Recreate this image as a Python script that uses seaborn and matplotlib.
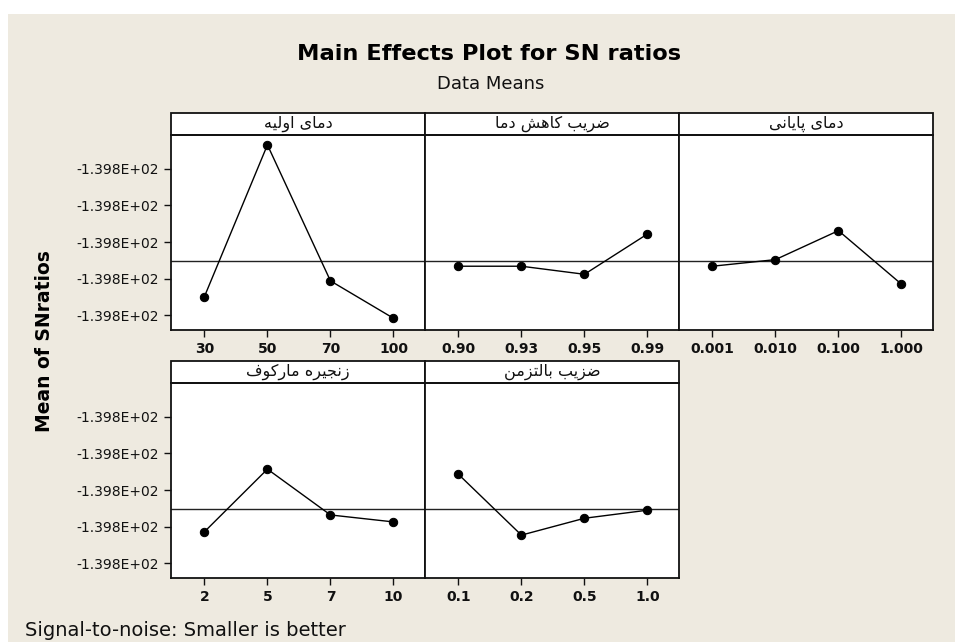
import matplotlib
matplotlib.use("Agg")
import matplotlib.pyplot as plt
from matplotlib.patches import Rectangle
from matplotlib.ticker import FormatStrFormatter
import numpy as np
import pandas as pd
import seaborn as sns

# factor names (Persian) and their levels
factor_names = ["دمای اولیه", "ضریب کاهش دما", "دمای پایانی", "زنجیره مارکوف", "ضزیب بالتزمن"]
levels_t0 = ["30", "50", "70", "100"]
levels_alpha = ["0.90", "0.93", "0.95", "0.99"]
levels_tf = ["0.001", "0.010", "0.100", "1.000"]
levels_markov = ["2", "5", "7", "10"]
levels_boltz = ["0.1", "0.2", "0.5", "1.0"]

# mean SN ratio for every level
sn_t0 = [-139.79949, -139.79535, -139.79906, -139.80008]
sn_alpha = [-139.79866, -139.79866, -139.79888, -139.79778]
sn_tf = [-139.79866, -139.79848, -139.79769, -139.79915]
sn_markov = [-139.79914, -139.79743, -139.79868, -139.79887]
sn_boltz = [-139.79757, -139.79923, -139.79877, -139.79855]

y_ticks = [-139.796, -139.797, -139.798, -139.799, -139.800]

BEIGE = "#EEEAE0"
INK = "#111111"

# minimal Persian shaping: (isolated, final, initial, medial)
FORMS = {
    "ا": ("\uFE8D", "\uFE8E", None, None),
    "ب": ("\uFE8F", "\uFE90", "\uFE91", "\uFE92"),
    "پ": ("\uFB56", "\uFB57", "\uFB58", "\uFB59"),
    "ت": ("\uFE95", "\uFE96", "\uFE97", "\uFE98"),
    "ج": ("\uFE9D", "\uFE9E", "\uFE9F", "\uFEA0"),
    "د": ("\uFEA9", "\uFEAA", None, None),
    "ر": ("\uFEAD", "\uFEAE", None, None),
    "ز": ("\uFEAF", "\uFEB0", None, None),
    "ش": ("\uFEB5", "\uFEB6", "\uFEB7", "\uFEB8"),
    "ض": ("\uFEBD", "\uFEBE", "\uFEBF", "\uFEC0"),
    "ف": ("\uFED1", "\uFED2", "\uFED3", "\uFED4"),
    "ک": ("\uFB8E", "\uFB8F", "\uFB90", "\uFB91"),
    "ل": ("\uFEDD", "\uFEDE", "\uFEDF", "\uFEE0"),
    "م": ("\uFEE1", "\uFEE2", "\uFEE3", "\uFEE4"),
    "ن": ("\uFEE5", "\uFEE6", "\uFEE7", "\uFEE8"),
    "ه": ("\uFEE9", "\uFEEA", "\uFEEB", "\uFEEC"),
    "و": ("\uFEED", "\uFEEE", None, None),
    "ی": ("\uFBFC", "\uFBFD", "\uFBFE", "\uFBFF"),
}


def shape_fa(text):
    out = []
    for i, ch in enumerate(text):
        if ch not in FORMS:
            out.append(ch)
            continue
        prev = text[i - 1] if i > 0 else None
        nxt = text[i + 1] if i + 1 < len(text) else None
        iso, fin, ini, med = FORMS[ch]
        join_prev = prev in FORMS and FORMS[prev][2] is not None
        join_next = ini is not None and nxt in FORMS
        if join_prev and join_next:
            out.append(med)
        elif join_prev:
            out.append(fin)
        elif join_next:
            out.append(ini)
        else:
            out.append(iso)
    return "".join(reversed(out))


sns.set_theme(style="ticks")
plt.rcParams["font.family"] = ["DejaVu Sans"]
plt.rcParams["text.color"] = INK

factors = [
    (factor_names[0], levels_t0, sn_t0),
    (factor_names[1], levels_alpha, sn_alpha),
    (factor_names[2], levels_tf, sn_tf),
    (factor_names[3], levels_markov, sn_markov),
    (factor_names[4], levels_boltz, sn_boltz),
]
grand_mean = np.mean(sn_t0 + sn_alpha + sn_tf + sn_markov + sn_boltz)

fig, axes = plt.subplots(2, 3, figsize=(9.55, 6.42), dpi=100, sharey=True)
fig.patch.set_facecolor("white")
fig.add_artist(Rectangle((8 / 955, 0), 1, 1 - 14 / 642, transform=fig.transFigure,
                         facecolor=BEIGE, edgecolor="none", zorder=-10))
fig.subplots_adjust(left=171 / 955, right=933 / 955, top=1 - 135 / 642,
                    bottom=1 - 578 / 642, wspace=0, hspace=53 / 195)

strip_h = 22 / 195
for k, (name, levels, sn) in enumerate(factors):
    ax = axes.flat[k]
    df = pd.DataFrame({"level": levels, "sn": sn})
    ax.set_facecolor("white")
    ax.axhline(grand_mean, color="#222222", lw=1.0, zorder=1)
    sns.pointplot(data=df, x="level", y="sn", ax=ax, color="black", markers="o",
                  linestyles="-", errorbar=None, markersize=6, linewidth=1.0)
    ax.set_xlim(-0.53, 3.5)
    ax.set_ylim(-139.8004, -139.79508)
    ax.set_yticks(y_ticks)
    ax.yaxis.set_major_formatter(FormatStrFormatter("%.3E"))
    ax.set_xlabel("")
    ax.set_ylabel("")
    for side in ["top", "right", "left", "bottom"]:
        ax.spines[side].set_visible(True)
        ax.spines[side].set_color(INK)
        ax.spines[side].set_linewidth(1.3)
    ax.tick_params(axis="both", direction="out", length=5, width=1, colors=INK,
                   labelsize=10)
    for lbl in ax.get_xticklabels():
        lbl.set_fontweight("bold")
        lbl.set_fontsize(10)
    if k % 3 != 0:
        ax.tick_params(axis="y", left=False, labelleft=False)
    # strip header
    ax.add_patch(Rectangle((0, 1), 1, strip_h, transform=ax.transAxes, clip_on=False,
                           facecolor="white", edgecolor=INK, lw=1.3))
    ax.text(0.5, 1 + strip_h / 2, shape_fa(name), transform=ax.transAxes,
            ha="center", va="center", fontsize=11.5, color=INK)

axes[1, 2].axis("off")

fig.text(489 / 955, 1 - 54 / 642, "Main Effects Plot for SN ratios", ha="center",
         va="center", fontsize=16.2, fontweight="bold", color="black")
fig.text(491 / 955, 1 - 84 / 642, "Data Means", ha="center", va="center", fontsize=13)
fig.text(45 / 955, 1 - 341 / 642, "Mean of SNratios", rotation=90, ha="center",
         va="center", fontsize=13.5, fontweight="bold", color="black")
fig.text(25 / 955, 1 - 630 / 642, "Signal-to-noise: Smaller is better", ha="left",
         va="center", fontsize=14)

fig.savefig("out.png", dpi=100, facecolor=fig.get_facecolor())
